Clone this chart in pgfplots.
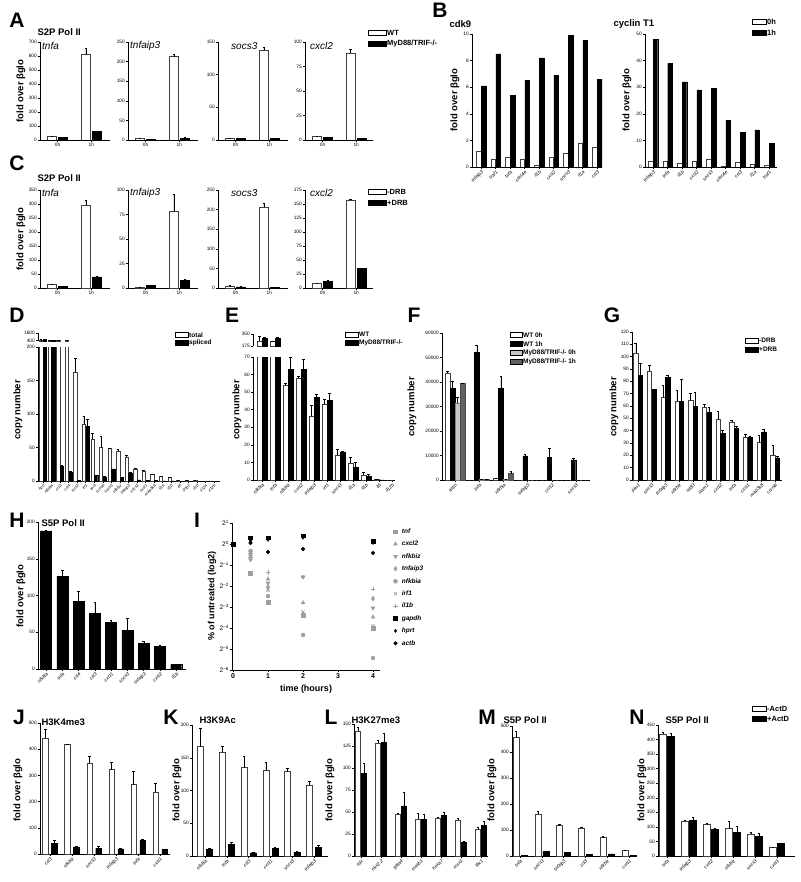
\documentclass[border=0pt]{standalone}
\usepackage{fontspec}
\setmainfont{Liberation Sans}
\usepackage{pgfplots}
\pgfplotsset{compat=1.18}
\newcommand{\tk}{\fontsize{4.8}{5}\selectfont}
\newcommand{\yl}{\fontsize{9.5}{10}\selectfont\bfseries}
\newcommand{\pl}{\fontsize{21}{21}\selectfont\bfseries}
\newcommand{\ti}{\fontsize{9.5}{10}\selectfont\bfseries}
\newcommand{\gi}{\fontsize{10}{11}\selectfont\itshape}
\newcommand{\lgd}{\fontsize{7.5}{8}\selectfont\bfseries}
\newcommand{\lgs}{\fontsize{6.5}{7}\selectfont\bfseries}
\newcommand{\sw}[6]{\draw[fill=#4,draw=black,line width=0.5pt] (#1,-#2) rectangle ++(#3,-5.5);
  \node[font=#6,anchor=west,inner sep=1pt] at (#1+#3,-#2-2.75) {#5};}
\pgfplotsset{
 pos/.style n args={4}{at={(#1pt,-#2pt)},width=#3pt,height=#4pt},
 prism/.style={scale only axis, anchor=south west,
   axis x line*=bottom, axis y line*=left,
   axis line style={line width=0.6pt,black},
   tick align=outside, major tick length=2pt,
   tick style={line width=0.5pt,black},
   ymin=0, enlargelimits=false,
   tick label style={font=\tk},
   /pgf/number format/assume math mode=true,
   /pgf/number format/1000 sep={},
   scaled y ticks=false,
   xticklabel style={inner sep=1pt},
   yticklabel style={inner sep=1pt},
 },
 genes/.style={xtick={0,...,22}, xticklabels={#1}, xticklabel style={rotate=45, anchor=north east, font=\tk\itshape, inner sep=0.5pt}},
 wb/.style={fill=white, draw=black!75, line width=0.45pt},
 bb/.style={fill=black, draw=black, line width=0.45pt},
 eb/.style={/pgfplots/error bars/y dir=plus, /pgfplots/error bars/y explicit,
   /pgfplots/error bars/error bar style={line width=0.4pt,black},
   /pgfplots/error bars/error mark options={rotate=90,mark size=1.3pt,line width=0.4pt,black}},
}
\begin{document}
\begin{tikzpicture}[x=1pt,y=1pt]
\useasboundingbox (0,0) rectangle (800,-882);
% ================= A =================
\begin{axis}[prism,ybar=2pt,bar width=9pt,pos={40}{140}{70}{98},xmin=-0.52,xmax=1.55,ymax=700,ytick={0,100,...,700},xtick={0,1},xticklabels={0h,1h}]
\addplot[wb,eb] coordinates {(0,25)+-(0,3) (1,615)+-(0,40)};
\addplot[bb,eb] coordinates {(0,20)+-(0,2) (1,60)+-(0,1)};
\end{axis}
\begin{axis}[prism,ybar=2pt,bar width=9pt,pos={128}{140}{70}{98},xmin=-0.52,xmax=1.55,ymax=250,ytick={0,50,...,250},xtick={0,1},xticklabels={0h,1h}]
\addplot[wb,eb] coordinates {(0,4)+-(0,1) (1,213)+-(0,5)};
\addplot[bb,eb] coordinates {(0,2)+-(0,0.5) (1,5)+-(0,1)};
\end{axis}
\begin{axis}[prism,ybar=2pt,bar width=9pt,pos={218}{140}{70}{98},xmin=-0.52,xmax=1.55,ymax=150,ytick={0,50,100,150},xtick={0,1},xticklabels={0h,1h}]
\addplot[wb,eb] coordinates {(0,3)+-(0,0.5) (1,138)+-(0,4)};
\addplot[bb,eb] coordinates {(0,3)+-(0,0.3) (1,2)+-(0,0.3)};
\end{axis}
\begin{axis}[prism,ybar=2pt,bar width=9pt,pos={305}{140}{68}{98},xmin=-0.52,xmax=1.5,ymax=100,ytick={0,25,...,100},xtick={0,1},xticklabels={0h,1h}]
\addplot[wb,eb] coordinates {(0,3.5)+-(0,0.5) (1,89)+-(0,4)};
\addplot[bb,eb] coordinates {(0,2.5)+-(0,0.3) (1,2)+-(0,0.3)};
\end{axis}
% ================= C =================
\begin{axis}[prism,ybar=2pt,bar width=9pt,pos={40}{288}{70}{98},xmin=-0.52,xmax=1.55,ymax=350,ytick={0,50,...,350},xtick={0,1},xticklabels={0h,1h}]
\addplot[wb,eb] coordinates {(0,14)+-(0,1) (1,295)+-(0,20)};
\addplot[bb,eb] coordinates {(0,7)+-(0,0.5) (1,40)+-(0,2)};
\end{axis}
\begin{axis}[prism,ybar=2pt,bar width=9pt,pos={128}{288}{70}{98},xmin=-0.52,xmax=1.55,ymax=100,ytick={0,25,...,100},xtick={0,1},xticklabels={0h,1h}]
\addplot[wb,eb] coordinates {(0,1)+-(0,0.2) (1,78)+-(0,18)};
\addplot[bb,eb] coordinates {(0,3)+-(0,0.3) (1,8)+-(0,0.5)};
\end{axis}
\begin{axis}[prism,ybar=2pt,bar width=9pt,pos={218}{288}{70}{98},xmin=-0.52,xmax=1.55,ymax=250,ytick={0,50,...,250},xtick={0,1},xticklabels={0h,1h}]
\addplot[wb,eb] coordinates {(0,5)+-(0,1) (1,207)+-(0,10)};
\addplot[bb,eb] coordinates {(0,3)+-(0,0.5) (1,2)+-(0,0.3)};
\end{axis}
\begin{axis}[prism,ybar=2pt,bar width=9pt,pos={305}{288}{68}{98},xmin=-0.52,xmax=1.5,ymax=175,ytick={0,25,...,175},xtick={0,1},xticklabels={0h,1h}]
\addplot[wb,eb] coordinates {(0,8)+-(0,1) (1,157)+-(0,2)};
\addplot[bb,eb] coordinates {(0,12)+-(0,2) (1,35)+-(0,1)};
\end{axis}
% ================= B =================
\begin{axis}[prism,ybar=0.5pt,bar width=4.5pt,pos={472}{167}{130}{133},xmin=-0.62,xmax=8.34,ymax=10,ytick={0,2,...,10},genes={tnfaip3,traf1,tnfa,clec4e,il1b,cxcl2,socs3,il1a,ccl3}]
\addplot[wb] coordinates {(0,1.2)(1,0.6)(2,0.7)(3,0.55)(4,0.1)(5,0.7)(6,1.0)(7,1.8)(8,1.5)};
\addplot[bb] coordinates {(0,6.1)(1,8.5)(2,5.4)(3,6.5)(4,8.2)(5,6.9)(6,9.9)(7,9.5)(8,6.6)};
\end{axis}
\begin{axis}[prism,ybar=0.5pt,bar width=4.5pt,pos={645}{167}{132}{133},xmin=-0.55,xmax=8.55,ymax=50,ytick={0,10,...,50},genes={tnfaip3,tnfa,il1b,cxcl2,socs3,clec4e,ccl3,il1a,traf1}]
\addplot[wb] coordinates {(0,2)(1,2)(2,1.5)(3,2.2)(4,3)(5,0.2)(6,1.8)(7,1)(8,0.8)};
\addplot[bb] coordinates {(0,48)(1,39)(2,32)(3,29)(4,29.5)(5,17.5)(6,13)(7,14)(8,8.8)};
\end{axis}
% ================= D =================
\begin{axis}[prism,ybar=0.3pt,bar width=3.3pt,pos={38}{481}{182}{134},xmin=-0.58,xmax=20.7,ymax=200,ytick={0,50,...,200},
  genes={hprt,nfkbia,ccl3,ccl4,cxcl2,irf1,ier3,ccrn4l,icam1,nfkbiz,tnfaip3,socs3,cxcl1,map3k8,il1a,il1b,il6,ifnb1,il10,il12a,il12b},
  xticklabel style={font=\fontsize{4}{4}\selectfont\itshape}]
\addplot[wb,eb] coordinates {(0,480)+-(0,0)(1,430)+-(0,0)(2,450)+-(0,0)(3,440)+-(0,0)(4,163)+-(0,20)(5,85)+-(0,12)(6,62)+-(0,9)(7,50)+-(0,17)(8,49)+-(0,0.5)(9,45)+-(0,3)(10,36)+-(0,3)(11,18)+-(0,1)(12,15)+-(0,1)(13,9.5)+-(0,1)(14,6.5)+-(0,1)(15,5)+-(0,1)(16,1)+-(0,0)(17,0.8)+-(0,0)(18,0.5)+-(0,0)(19,0.3)+-(0,0)(20,0.2)+-(0,0)};
\addplot[bb,eb] coordinates {(0,560)+-(0,0)(1,440)+-(0,0)(2,22)+-(0,2)(3,13)+-(0,1.5)(4,0.5)+-(0,0)(5,82)+-(0,10)(6,8)+-(0,0.5)(7,6)+-(0,0.5)(8,18)+-(0,0.3)(9,5)+-(0,1)(10,11)+-(0,1.5)(11,1.5)+-(0,0.3)(12,0.5)+-(0,0)(13,0.5)+-(0,0)(14,0.3)+-(0,0)(15,0.2)+-(0,0)};
\end{axis}
\begin{axis}[prism,ybar=0.3pt,bar width=3.3pt,pos={38}{341}{182}{8},axis x line=none,xmin=-0.58,xmax=20.7,ymin=300,ymax=1600,ytick={400,1600}]
\addplot[wb,eb] coordinates {(0,480)+-(0,60)(1,430)+-(0,0)(2,450)+-(0,30)(3,440)+-(0,20)};
\addplot[bb,eb] coordinates {(0,560)+-(0,80)(1,440)+-(0,0)};
\end{axis}
% ================= E =================
\begin{axis}[prism,ybar=0.2pt,bar width=5pt,pos={253}{480}{142}{123},xmin=-0.69,xmax=10.23,ymax=70,ytick={0,10,...,70},
  genes={nfkbia,tnfa,nfkbiz,cxcl2,tnfaip3,irf1,socs3,il1a,il1b,il6,il12b}]
\addplot[wb,eb] coordinates {(0,250)+-(0,0)(1,255)+-(0,0)(2,54)+-(0,1)(3,58)+-(0,1)(4,36.5)+-(0,6)(5,43)+-(0,3)(6,14)+-(0,3.5)(7,9.5)+-(0,3.5)(8,3)+-(0,1.5)(9,0.3)+-(0,0)(10,0.1)+-(0,0)};
\addplot[bb,eb] coordinates {(0,290)+-(0,0)(1,280)+-(0,0)(2,63)+-(0,7)(3,63)+-(0,5.5)(4,47)+-(0,2)(5,45.5)+-(0,4)(6,16)+-(0,0.5)(7,7)+-(0,3)(8,2.2)+-(0,1)(9,0.1)+-(0,0)};
\end{axis}
\begin{axis}[prism,ybar=0.2pt,bar width=5pt,pos={253}{346}{142}{12},axis x line=none,xmin=-0.69,xmax=10.23,ymin=175,ymax=350,ytick={175,350}]
\addplot[wb,eb] coordinates {(0,250)+-(0,70)(1,240)+-(0,12)};
\addplot[bb,eb] coordinates {(0,290)+-(0,15)(1,285)+-(0,12)};
\end{axis}
% ================= F =================
\begin{axis}[prism,ybar=0.5pt,bar width=4.5pt,pos={442}{480}{148}{147},xmin=-0.54,xmax=5.58,ymax=60000,ytick={0,10000,...,60000},
  genes={actin,tnfa,nfkbia,tnfaip3,cxcl2,socs3}]
\addplot[wb,eb] coordinates {(0,43500)+-(0,1000)(1,100)+-(0,0)(2,800)+-(0,0)(3,50)+-(0,0)(4,50)+-(0,0)(5,50)+-(0,0)};
\addplot[bb,eb] coordinates {(0,37500)+-(0,3000)(1,52000)+-(0,3000)(2,37500)+-(0,5000)(3,9800)+-(0,900)(4,9100)+-(0,3700)(5,8200)+-(0,800)};
\addplot[fill=black!22,draw=black!50,line width=0.45pt,eb] coordinates {(0,31500)+-(0,2500)(1,200)+-(0,0)(2,400)+-(0,0)(3,0)+-(0,0)(4,0)+-(0,0)(5,0)+-(0,0)};
\addplot[fill=black!62,draw=black!70,line width=0.45pt,eb] coordinates {(0,39500)+-(0,0)(1,300)+-(0,0)(2,2600)+-(0,800)(3,0)+-(0,0)(4,0)+-(0,0)(5,0)+-(0,0)};
\end{axis}
% ================= G =================
\begin{axis}[prism,ybar=0.3pt,bar width=4.3pt,pos={632}{480}{150}{148},xmin=-0.44,xmax=10.5,ymax=120,ytick={0,10,...,120},
  genes={pim1,socs3,tnfaip3,nfkbiz,cd83,icam1,cxcl2,tnfa,cxcl1,map3k8,ccrn4l}]
\addplot[wb,eb] coordinates {(0,103)+-(0,8)(1,88)+-(0,5)(2,67)+-(0,10)(3,64)+-(0,9)(4,64.5)+-(0,6)(5,59)+-(0,2.5)(6,49)+-(0,7)(7,47)+-(0,1.5)(8,34.5)+-(0,3)(9,31)+-(0,5.5)(10,20)+-(0,8)};
\addplot[bb,eb] coordinates {(0,85)+-(0,10)(1,73.5)+-(0,0)(2,83)+-(0,2)(3,63.5)+-(0,18)(4,60)+-(0,11)(5,55)+-(0,4)(6,38)+-(0,2)(7,42)+-(0,2)(8,35)+-(0,0.5)(9,39)+-(0,2)(10,18)+-(0,1.5)};
\end{axis}
% ================= H =================
\begin{axis}[prism,ybar=0pt,bar width=11pt,pos={38}{669}{148}{147},xmin=-0.5,xmax=8.6,ymax=200,ytick={0,50,...,200},
  genes={nfkbia,tnfa,ccl4,ccl3,cxcl1,socs3,tnfaip3,cxcl2,il1b}]
\addplot[bb,eb] coordinates {(0,188)+-(0,1)(1,126)+-(0,9)(2,92)+-(0,14)(3,76)+-(0,15)(4,63)+-(0,3)(5,53)+-(0,16)(6,35)+-(0,3)(7,31)+-(0,2)(8,6)+-(0,0.5)};
\end{axis}
% ================= I =================
\begin{axis}[prism,pos={232}{670}{148}{147},xmin=-0.03,xmax=4.2,ymin=-6,ymax=1,clip=false,
  xtick={0,...,4},ytick={-6,...,1},
  yticklabels={2\textsuperscript{−6},2\textsuperscript{−5},2\textsuperscript{−4},2\textsuperscript{−3},2\textsuperscript{−2},2\textsuperscript{−1},2\textsuperscript{0},2\textsuperscript{1}},
  yticklabel style={font=\fontsize{6.5}{7}\selectfont},
  xticklabel style={font=\fontsize{7}{7}\selectfont\bfseries},
  legend style={at={(1.06,0.985)},anchor=north west,draw=none,fill=none,
    font=\fontsize{6.5}{7}\selectfont\bfseries\itshape,row sep=3.9pt,
    nodes={inner sep=1pt,text height=5pt,text depth=1.5pt}},
  legend cell align=left,
  legend image code/.code={\draw[#1] plot coordinates {(3pt,0pt)};\path (0pt,0pt) (8pt,0pt);},
]
\addplot[only marks,mark=square*,mark size=1.9pt,color=black!38] coordinates {(0,0)(0.5,-1.38)(1,-2.76)(2,-3.38)(4,-4.0)};
\addplot[only marks,mark=triangle*,mark size=2.3pt,color=black!38] coordinates {(0,0)(0.5,-0.6)(1,-1.67)(2,-2.8)(4,-3.48)};
\addplot[only marks,mark=triangle*,mark size=2.3pt,mark options={rotate=180},color=black!38] coordinates {(0,0)(0.5,-0.75)(1,-1.86)(2,-1.57)(4,-3.05)};
\addplot[only marks,mark=diamond*,mark size=2.3pt,color=black!38] coordinates {(0,0)(0.5,-0.55)(1,-2.05)(2,-3.38)(4,-2.6)};
\addplot[only marks,mark=*,mark size=2pt,color=black!38] coordinates {(0,0)(0.5,-0.33)(1,-2.48)(2,-4.33)(4,-5.43)};
\addplot[only marks,mark=x,mark size=2.2pt,line width=0.8pt,color=black!38] coordinates {(0,0)(0.5,-0.5)(1,-2.2)(2,-3.24)(4,-3.9)};
\addplot[only marks,mark=+,mark size=2.4pt,line width=0.8pt,color=black!38] coordinates {(0,0)(0.5,-0.45)(1,-1.35)(2,-1.57)(4,-2.14)};
\addplot[only marks,mark=square*,mark size=1.9pt,color=black] coordinates {(0,0)(0.5,0.3)(1,0.3)(2,0.4)(4,0.15)};
\addplot[only marks,mark=diamond*,mark size=1.6pt,color=black] coordinates {(0,0)(0.5,0.15)(1,0.2)(2,0.3)(4,0.05)};
\addplot[only marks,mark=*,mark size=1.9pt,color=black] coordinates {(0,0)(0.5,0.05)(1,-0.38)(2,-0.24)(4,-0.43)};
\legend{tnf,cxcl2,nfkbiz,tnfaip3,nfkbia,irf1,il1b,gapdh,hprt,actb}
\end{axis}
% ================= J =================
\begin{axis}[prism,ybar=3.5pt,bar width=5.5pt,pos={40}{854}{130}{131},xmin=-0.45,xmax=5.45,ymax=500,ytick={0,100,...,500},
  genes={ccl3,nfkbiz,socs3,tnfaip3,tnfa,cxcl1}]
\addplot[wb,eb] coordinates {(0,443)+-(0,35)(1,418)+-(0,2)(2,348)+-(0,25)(3,322)+-(0,27)(4,265)+-(0,50)(5,235)+-(0,35)};
\addplot[bb,eb] coordinates {(0,42)+-(0,12)(1,27)+-(0,1)(2,22)+-(0,8)(3,20)+-(0,1)(4,52)+-(0,5)(5,17)+-(0,3)};
\end{axis}
% ================= K =================
\begin{axis}[prism,ybar=3.2pt,bar width=6pt,pos={192}{856}{136}{131},xmin=-0.6,xmax=5.64,ymax=200,ytick={0,50,...,200},
  genes={nfkbia,tnfa,ccl3,cxcl1,socs3,tnfaip3}]
\addplot[wb,eb] coordinates {(0,167)+-(0,28)(1,159)+-(0,8)(2,135)+-(0,18)(3,131)+-(0,12)(4,129)+-(0,5)(5,108)+-(0,6)};
\addplot[bb,eb] coordinates {(0,11)+-(0,1)(1,18)+-(0,3)(2,5)+-(0,0.5)(3,12)+-(0,1)(4,6)+-(0,1)(5,13)+-(0,3)};
\end{axis}
% ================= L =================
\begin{axis}[prism,ybar=1pt,bar width=5pt,pos={354}{856}{134}{132},xmin=-0.35,xmax=6.35,ymax=150,ytick={0,25,...,150},
  genes={cdx,nkx2.2,gata4,mash1,hoxa7,msx1,tbx1}]
\addplot[wb,eb] coordinates {(0,142)+-(0,4)(1,128)+-(0,4)(2,48)+-(0,0.5)(3,42)+-(0,7)(4,43)+-(0,1)(5,41)+-(0,2)(6,30)+-(0,3)};
\addplot[bb,eb] coordinates {(0,94)+-(0,11)(1,129)+-(0,10)(2,57)+-(0,15)(3,42)+-(0,6)(4,46)+-(0,4)(5,16)+-(0,0.5)(6,35)+-(0,5)};
\end{axis}
% ================= M =================
\begin{axis}[prism,ybar=2pt,bar width=6pt,pos={512}{856}{125}{130},xmin=-0.37,xmax=5.37,ymax=500,ytick={0,100,...,500},
  genes={tnfa,socs3,tnfaip3,ccl3,nfkbiz,cxcl1}]
\addplot[wb,eb] coordinates {(0,455)+-(0,25)(1,160)+-(0,12)(2,118)+-(0,3)(3,108)+-(0,2)(4,72)+-(0,3)(5,22)+-(0,2)};
\addplot[bb,eb] coordinates {(0,3)+-(0,0.5)(1,18)+-(0,2)(2,14)+-(0,1)(3,5)+-(0,0.5)(4,8)+-(0,0.5)(5,2)+-(0,0.3)};
\end{axis}
% ================= N =================
\begin{axis}[prism,ybar=1pt,bar width=7pt,pos={658}{856}{137}{131},xmin=-0.41,xmax=5.82,ymax=450,ytick={0,50,...,450},
  genes={tnfa,tnfaip3,cxcl2,nfkbiz,socs3,cxcl1}]
\addplot[wb,eb] coordinates {(0,420)+-(0,5)(1,120)+-(0,3)(2,108)+-(0,5)(3,94)+-(0,25)(4,74)+-(0,8)(5,30)+-(0,1)};
\addplot[bb,eb] coordinates {(0,412)+-(0,10)(1,122)+-(0,10)(2,92)+-(0,3)(3,82)+-(0,22)(4,68)+-(0,12)(5,43)+-(0,2)};
\end{axis}
% ================= texts =================
\foreach \t/\x/\y in {A/17/20,B/440/10,C/17/163,D/17/315,E/232/315,F/414/315,G/612/315,H/17/520,I/197/520,J/19/717,K/171/717,L/331/717,M/487/717,N/637/717}
  \node[font=\pl,inner sep=0pt] at (\x,-\y) {\t};
\node[font=\ti,anchor=west] at (34,-32) {S2P Pol II};
\node[font=\ti,anchor=west] at (34,-178) {S2P Pol II};
\node[font=\ti,anchor=west] at (38,-523) {S5P Pol II};
\node[font=\ti,anchor=west] at (38,-722) {H3K4me3};
\node[font=\ti,anchor=west] at (196,-720) {H3K9Ac};
\node[font=\ti,anchor=west] at (348,-720) {H3K27me3};
\node[font=\ti,anchor=west] at (500,-720) {S5P Pol II};
\node[font=\ti,anchor=west] at (662,-720) {S5P Pol II};
\node[font=\ti,anchor=west] at (446,-24) {cdk9};
\node[font=\ti,anchor=west] at (610,-24) {cyclin T1};
\foreach \g/\x/\y in {tnfa/42/46,tnfaip3/130/46,socs3/231/46,cxcl2/310/46,tnfa/42/193,tnfaip3/130/193,socs3/231/193,cxcl2/310/193}
  \node[font=\gi,anchor=west,inner sep=0pt] at (\x,-\y) {\g};
\foreach \x/\y in {21/91,21/239,455/100,627/100,21/596,18/790,177/790,330/790,492/790,642/790}
  \node[font=\yl,rotate=90] at (\x,-\y) {fold over βglo};
\foreach \x/\y in {18/410,237/410,412/407,614/407}
  \node[font=\yl,rotate=90] at (\x,-\y) {copy number};
\node[font=\fontsize{9}{10}\selectfont\bfseries,rotate=90] at (212,-596) {\% of untreated (log2)};
\node[font=\fontsize{9}{10}\selectfont\bfseries] at (306,-689) {time (hours)};
% legends
\sw{368}{30}{18}{white}{WT}{\lgd}
\sw{368}{41}{18}{black}{MyD88/TRIF-/-}{\lgd}
\sw{368}{189}{18}{white}{-DRB}{\lgd}
\sw{368}{200}{18}{black}{+DRB}{\lgd}
\sw{752}{19}{14}{white}{0h}{\lgd}
\sw{752}{30}{14}{black}{1h}{\lgd}
\sw{175}{332}{13}{white}{total}{\lgs}
\sw{175}{340}{13}{black}{spliced}{\lgs}
\sw{345}{332}{13}{white}{WT}{\lgs}
\sw{345}{340}{13}{black}{MyD88/TRIF-/-}{\lgs}
\sw{510}{332}{12}{white}{WT 0h}{\lgs}
\sw{510}{341}{12}{black}{WT 1h}{\lgs}
\sw{510}{350}{12}{black!22}{MyD88/TRIF-/- 0h}{\lgs}
\sw{510}{359}{12}{black!62}{MyD88/TRIF-/- 1h}{\lgs}
\sw{745}{338}{13}{white}{-DRB}{\lgs}
\sw{745}{347}{13}{black}{+DRB}{\lgs}
\sw{752}{706}{14}{white}{-ActD}{\lgd}
\sw{752}{716}{14}{black}{+ActD}{\lgd}
\end{tikzpicture}
\end{document}
